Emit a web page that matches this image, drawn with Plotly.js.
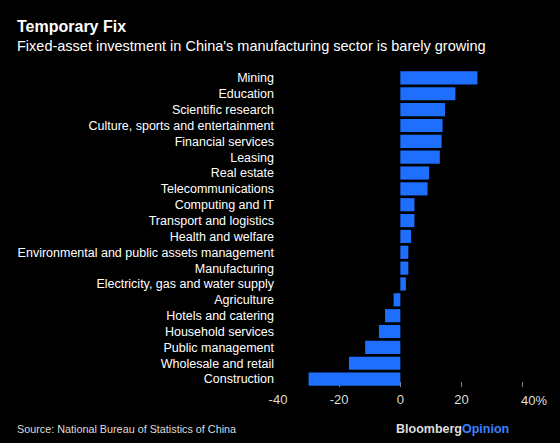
<!DOCTYPE html>
<html><head><meta charset="utf-8">
<script src="https://cdn.plot.ly/plotly-3.0.1.min.js"></script>
<style>html,body{margin:0;padding:0;background:#000;}#chart{width:560px;height:443px;}</style>
</head><body><div id="chart"></div>
<script>
const categories = ["Mining","Education","Scientific research","Culture, sports and entertainment","Financial services","Leasing","Real estate","Telecommunications","Computing and IT","Transport and logistics","Health and welfare","Environmental and public assets management","Manufacturing","Electricity, gas and water supply","Agriculture","Hotels and catering","Household services","Public management","Wholesale and retail","Construction"];
const growth = [25.2,18.0,14.6,13.8,13.5,12.9,9.4,8.9,4.6,4.6,3.5,2.6,2.6,1.8,-2.2,-5.0,-7.0,-11.5,-16.8,-30.0];
const tickVals = [-40,-20,0,20,40];
const tickText = ["-40","-20","0","20",""];
const lastTickLabel = "40%";

const FONT = "Liberation Sans, Arial, sans-serif";
const trace = {
  type: "bar", orientation: "h",
  x: growth, y: categories,
  marker: {color: "#1f6fff", line: {width: 0}},
  width: 0.83,
  hoverinfo: "x+y"
};
const W = 560 - 278 - 22, H = 443 - 70 - 56;
function px(x){return (x - 278) / W;}
function py(y){return (443 - 56 - y) / H;}
const layout = {
  width: 560, height: 443,
  paper_bgcolor: "#000", plot_bgcolor: "#000",
  margin: {l: 278, r: 22, t: 70, b: 56},
  showlegend: false,
  font: {family: FONT, color: "#fff", size: 12.5},
  xaxis: {
    range: [-40, 45], tickvals: tickVals, ticktext: tickText,
    showgrid: false, zeroline: false, showline: false,
    ticks: "inside", ticklen: 5, tickcolor: "#888", tickwidth: 1,
    tickfont: {size: 13, color: "#ddd", family: FONT},
    ticklabelstandoff: 3,
    layer: "below traces", fixedrange: true
  },
  yaxis: {
    autorange: "reversed", showgrid: false, zeroline: false, showline: false,
    ticks: "", tickfont: {size: 12.5, color: "#fff", family: FONT},
    ticklabelstandoff: 3, fixedrange: true
  },
  annotations: [
    {text: "<b>Temporary Fix</b>", xref: "paper", yref: "paper", x: px(15), y: py(27), xanchor: "left", yanchor: "middle",
     showarrow: false, font: {size: 16, color: "#fff", family: FONT}},
    {text: "Fixed-asset investment in China's manufacturing sector is barely growing", showarrow: false,
     xref: "paper", yref: "paper", x: px(15), y: py(46), xanchor: "left", yanchor: "middle",
     font: {size: 14.5, color: "#fff", family: FONT}},
    {text: "Source: National Bureau of Statistics of China", showarrow: false,
     xref: "paper", yref: "paper", x: px(15), y: py(429), xanchor: "left", yanchor: "middle",
     font: {size: 10.8, color: "#ddd", family: FONT}},
    {text: "<b>Bloomberg</b><b><span style='color:#3d82ff'>Opinion</span></b>", showarrow: false,
     xref: "paper", yref: "paper", x: px(511), y: py(429), xanchor: "right", yanchor: "middle",
     font: {size: 12.5, color: "#ddd", family: FONT}},
    {text: lastTickLabel, showarrow: false, xref: "x", yref: "paper", x: tickVals[4], y: py(400),
     xanchor: "left", yanchor: "middle", xshift: -4, font: {size: 13, color: "#ddd", family: FONT}}
  ]
};
Plotly.newPlot("chart", [trace], layout, {displayModeBar: false, staticPlot: true});
</script></body></html>
